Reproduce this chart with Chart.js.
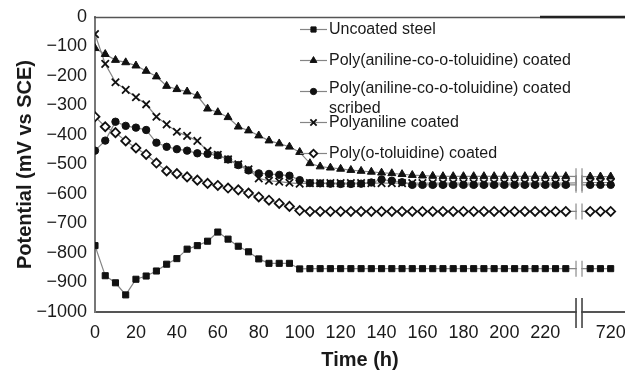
<!DOCTYPE html>
<html>
<head>
<meta charset="utf-8">
<script src="https://cdn.jsdelivr.net/npm/chart.js@4.4.1/dist/chart.umd.min.js"></script>
<style>
  html, body { margin: 0; padding: 0; background: #ffffff; }
  canvas { display: block; }
</style>
</head>
<body>
<canvas id="potentialChart" width="625" height="372"></canvas>
<script>
// Immersion time (h); the axis is broken between 235 h and 706 h.
const timeHours = [
  0, 5, 10, 15, 20, 25, 30, 35, 40, 45, 50, 55, 60, 65, 70, 75, 80, 85, 90, 95,
  100, 105, 110, 115, 120, 125, 130, 135, 140, 145, 150, 155, 160, 165, 170, 175,
  180, 185, 190, 195, 200, 205, 210, 215, 220, 225, 230,
  710, 715, 720
];
const timeTickValues = [0, 20, 40, 60, 80, 100, 120, 140, 160, 180, 200, 220, 720];

const seriesNames = [
  'Uncoated steel',
  'Poly(aniline-co-o-toluidine) coated',
  'Poly(aniline-co-o-toluidine) coated scribed',
  'Polyaniline coated',
  'Poly(o-toluidine) coated'
];

// Open circuit potential (mV vs SCE)
const uncoatedSteel = [
  -775, -877, -901, -942, -889, -878, -861, -838, -819, -787, -775, -760, -729, -753, -777, -796,
  -820, -835, -835, -835, -854, -853, -853, -853, -853, -853, -853, -853, -853, -853, -853, -853,
  -853, -853, -853, -853, -853, -853, -853, -853, -853, -853, -853, -853, -853, -853, -853,
  -853, -853, -853
];
const copolymerCoated = [
  -106, -126, -146, -154, -165, -183, -202, -234, -245, -253, -267, -311, -323, -340, -372, -385,
  -402, -419, -429, -440, -458, -496, -507, -511, -515, -519, -522, -525, -528, -530, -533, -536,
  -538, -539, -540, -540, -540, -540, -540, -540, -540, -540, -540, -540, -540, -540, -540,
  -541, -541, -541
];
const copolymerScribed = [
  -453, -419, -355, -369, -375, -383, -426, -440, -448, -453, -462, -464, -469, -483, -502, -520,
  -530, -532, -535, -538, -553, -563, -564, -565, -566, -566, -565, -561, -551, -555, -560, -569,
  -569, -569, -569, -569, -569, -569, -569, -569, -569, -569, -569, -569, -569, -569, -569,
  -569, -569, -569
];
const polyanilineCoated = [
  -58, -159, -221, -247, -272, -296, -338, -364, -389, -403, -420, -454, -467, -482, -499, -516,
  -547, -555, -558, -562, -565, -563, -563, -563, -563, -563, -563, -563, -563, -563, -563, -563,
  -563, -563, -563, -563, -563, -563, -563, -563, -563, -563, -563, -563, -563, -563, -563,
  -561, -561, -561
];
const polyToluidineCoated = [
  -338, -372, -392, -420, -444, -466, -495, -522, -531, -542, -553, -564, -571, -580, -586, -597,
  -610, -621, -632, -642, -656, -659, -659, -659, -659, -659, -659, -659, -659, -659, -659, -659,
  -659, -659, -659, -659, -659, -659, -659, -659, -659, -659, -659, -659, -659, -659, -659,
  -659, -659, -659
];

const FONT = '"Liberation Sans", Arial, Helvetica, sans-serif';
const TEXT = '#1a1a1a';
const LINE = '#858585';
const MARK = '#111111';

// Linear scale with a gap: values in (from, to) are cut out of the axis.
class BrokenLinearScale extends Chart.LinearScale {
  _breakMap() {
    const brk = this.options.axisBreak;
    const span = (brk.from - this.min) + (this.max - brk.to);
    const k = (this.width - brk.gap) / span;
    return { from: brk.from, to: brk.to, gap: brk.gap, k };
  }
  getPixelForValue(value) {
    const m = this._breakMap();
    if (value <= m.from) return this.left + (value - this.min) * m.k;
    return this.left + (m.from - this.min) * m.k + m.gap + (Math.max(value, m.to) - m.to) * m.k;
  }
  getValueForPixel(pixel) {
    const m = this._breakMap();
    const p = pixel - this.left;
    const split = (m.from - this.min) * m.k;
    if (p <= split) return this.min + p / m.k;
    return m.to + Math.max(0, p - split - m.gap) / m.k;
  }
}
BrokenLinearScale.id = 'brokenLinear';
BrokenLinearScale.defaults = Chart.LinearScale.defaults;
Chart.register(BrokenLinearScale);

function series(label, values, style, radius, fill, borderWidth) {
  return {
    label,
    data: timeHours.map((t, i) => ({ x: t, y: values[i] })),
    borderColor: LINE,
    borderWidth: 1.2,
    tension: 0,
    pointStyle: style,
    pointRadius: radius,
    pointBorderColor: MARK,
    pointBackgroundColor: fill,
    pointBorderWidth: borderWidth
  };
}

const datasets = [
  series(seriesNames[0], uncoatedSteel, 'rect', 4.3, MARK, 1),
  series(seriesNames[1], copolymerCoated, 'triangle', 4.6, MARK, 1),
  series(seriesNames[2], copolymerScribed, 'circle', 3.7, MARK, 1),
  series(seriesNames[3], polyanilineCoated, 'crossRot', 5.2, MARK, 1.8),
  series(seriesNames[4], polyToluidineCoated, 'rectRot', 4.5, '#ffffff', 1.8)
];

// Cuts the plotted lines and the time axis at the break and draws the "||" marks.
const axisBreakPlugin = {
  id: 'axisBreakMarks',
  afterDatasetsDraw(chart) {
    const { ctx, chartArea } = chart;
    const xs = chart.scales.x, ys = chart.scales.y;
    const brk = xs.options.axisBreak;
    const x1 = xs.getPixelForValue(brk.from);
    const x2 = x1 + brk.gap;
    ctx.save();
    ctx.fillStyle = '#ffffff';
    ctx.fillRect(x1 + 0.8, chartArea.top + 2, brk.gap - 1.6, chartArea.bottom - chartArea.top + 2);
    ctx.strokeStyle = '#8c8c8c';
    ctx.lineWidth = 1.2;
    chart.data.datasets.forEach(ds => {
      const last = ds.data.filter(p => p.x <= brk.from).pop();
      const y = ys.getPixelForValue(last.y);
      ctx.beginPath();
      ctx.moveTo(x1, y - 8); ctx.lineTo(x1, y + 8);
      ctx.moveTo(x2, y - 8); ctx.lineTo(x2, y + 8);
      ctx.stroke();
    });
    ctx.strokeStyle = '#444444';
    ctx.lineWidth = 1.6;
    const yb = chartArea.bottom;
    ctx.beginPath();
    ctx.moveTo(x1, yb - 14); ctx.lineTo(x1, yb + 16);
    ctx.moveTo(x2, yb - 14); ctx.lineTo(x2, yb + 16);
    ctx.stroke();
    ctx.restore();
  }
};

// Top frame line of the plot.
const frameTopPlugin = {
  id: 'frameTop',
  afterDraw(chart) {
    const { ctx, chartArea } = chart;
    ctx.save();
    ctx.strokeStyle = '#555555';
    ctx.lineWidth = 1.6;
    ctx.beginPath();
    ctx.moveTo(chartArea.left - 1, chartArea.top + 0.5);
    ctx.lineTo(chart.width, chartArea.top + 0.5);
    ctx.stroke();
    ctx.strokeStyle = '#222222';
    ctx.lineWidth = 2.4;
    ctx.beginPath();
    ctx.moveTo(chart.width - 85, chartArea.top);
    ctx.lineTo(chart.width, chartArea.top);
    ctx.stroke();
    ctx.restore();
  }
};

// Legend drawn inside the plot: short line with marker, then the series name.
const insideLegendPlugin = {
  id: 'insideLegend',
  afterDraw(chart, args, opts) {
    const { ctx } = chart;
    ctx.save();
    ctx.font = opts.fontSize + 'px ' + FONT;
    ctx.textBaseline = 'middle';
    ctx.textAlign = 'left';
    chart.data.datasets.forEach((ds, i) => {
      const yc = opts.top + i * opts.step;
      const x0 = opts.left;
      ctx.strokeStyle = LINE;
      ctx.lineWidth = 1.2;
      ctx.beginPath();
      ctx.moveTo(x0, yc);
      ctx.lineTo(x0 + opts.lineLength, yc);
      ctx.stroke();
      ctx.fillStyle = ds.pointBackgroundColor;
      ctx.strokeStyle = ds.pointBorderColor;
      ctx.lineWidth = ds.pointBorderWidth;
      Chart.helpers.drawPoint(ctx, {
        pointStyle: ds.pointStyle,
        radius: ds.pointRadius * 0.85,
        rotation: 0,
        borderWidth: ds.pointBorderWidth
      }, x0 + opts.lineLength / 2, yc);
      // word wrap
      const words = ds.label.split(' ');
      const lines = [];
      let cur = '';
      words.forEach(w => {
        const test = cur ? cur + ' ' + w : w;
        if (ctx.measureText(test).width > opts.maxWidth && cur) {
          lines.push(cur);
          cur = w;
        } else {
          cur = test;
        }
      });
      lines.push(cur);
      ctx.fillStyle = TEXT;
      const tx = x0 + opts.lineLength + opts.textGap;
      const firstY = yc - (lines.length - 1) * 3;
      lines.forEach((ln, j) => ctx.fillText(ln, tx, firstY + j * opts.lineHeight));
    });
    ctx.restore();
  }
};

new Chart(document.getElementById('potentialChart'), {
  type: 'line',
  data: { datasets },
  options: {
    responsive: false,
    animation: false,
    layout: { autoPadding: false, padding: { top: 17, right: 0, bottom: 0, left: 0 } },
    plugins: {
      legend: { display: false },
      tooltip: { enabled: false },
      insideLegend: {
        left: 300, top: 29.5, step: 31, lineLength: 27, textGap: 2,
        fontSize: 16, lineHeight: 20, maxWidth: 262
      }
    },
    scales: {
      x: {
        type: 'brokenLinear',
        min: 0,
        max: 727,
        bounds: 'data',
        axisBreak: { from: 235, to: 706, gap: 6 },
        grid: { display: false, drawTicks: false },
        border: { display: true, color: '#555555', width: 2 },
        ticks: {
          autoSkip: false,
          maxRotation: 0,
          padding: 10,
          color: TEXT,
          font: { family: FONT, size: 18 },
          callback: v => String(v)
        },
        afterBuildTicks: s => { s.ticks = timeTickValues.map(v => ({ value: v })); },
        afterFit: s => { s.height = 60; s.paddingLeft = 0; s.paddingRight = 0; },
        title: {
          display: true,
          text: 'Time (h)',
          color: TEXT,
          font: { family: FONT, size: 20, weight: 'bold' },
          padding: { top: 0, bottom: 0 }
        }
      },
      y: {
        min: -1000,
        max: 0,
        grid: { display: false, drawTicks: false },
        border: { display: true, color: '#777777', width: 2 },
        ticks: {
          stepSize: 100,
          padding: 8,
          color: TEXT,
          font: { family: FONT, size: 18 },
          callback: v => (v === 0 ? '0' : '\u2212' + Math.abs(v))
        },
        afterFit: s => { s.width = 95; s.paddingTop = 0; s.paddingBottom = 0; },
        title: {
          display: true,
          text: 'Potential (mV vs SCE)',
          color: TEXT,
          font: { family: FONT, size: 20, weight: 'bold' },
          padding: { top: 13, bottom: 0 }
        }
      }
    }
  },
  plugins: [axisBreakPlugin, frameTopPlugin, insideLegendPlugin]
});
</script>
</body>
</html>
